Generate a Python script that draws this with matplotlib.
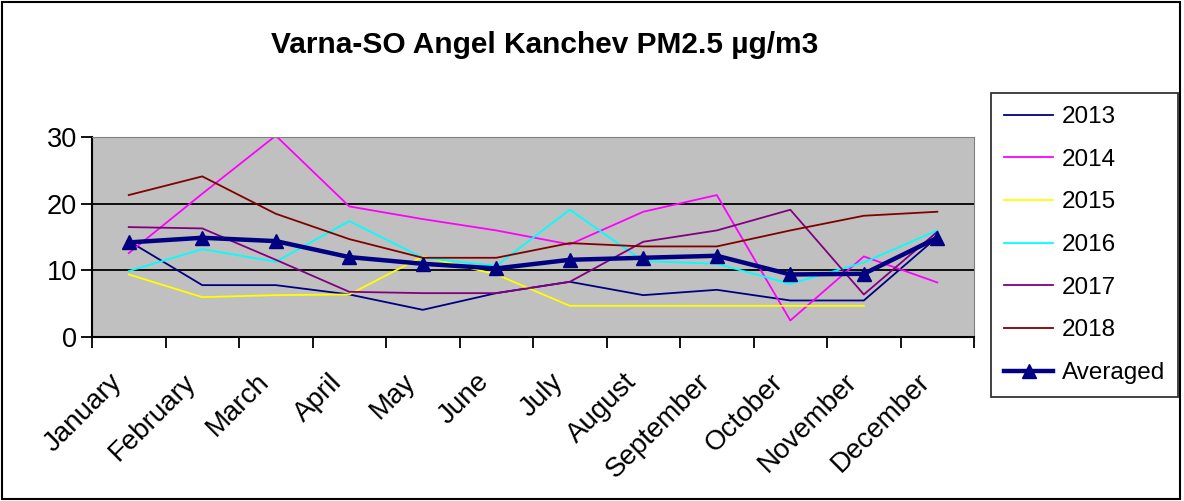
import matplotlib.pyplot as plt
from matplotlib.patches import Rectangle
from matplotlib.transforms import ScaledTranslation

plt.rcParams['font.family'] = ['Liberation Sans', 'DejaVu Sans']

# Data
months = ["January", "February", "March", "April", "May", "June", "July",
          "August", "September", "October", "November", "December"]
y2013 = [14.4, 7.8, 7.8, 6.4, 4.1, 6.6, 8.3, 6.3, 7.1, 5.5, 5.5, 15.0]
y2014 = [12.6, 21.5, 30.2, 19.6, 17.7, 16.0, 13.9, 18.8, 21.3, 2.5, 12.1, 8.2]
y2015 = [9.4, 6.0, 6.3, 6.4, 12.1, 9.4, 4.7, 4.7, 4.7, 4.7, 4.7, None]
y2016 = [9.9, 13.2, 11.3, 17.4, 11.9, 10.7, 19.1, 11.4, 11.0, 8.0, 11.2, 16.0]
y2017 = [16.5, 16.3, 11.6, 6.8, 6.6, 6.6, 8.3, 14.3, 16.0, 19.1, 6.4, 15.8]
y2018 = [21.3, 24.1, 18.5, 14.7, 11.9, 11.9, 14.1, 13.6, 13.6, 16.0, 18.2, 18.8]
averaged = [14.2, 14.9, 14.4, 12.0, 11.0, 10.3, 11.6, 11.9, 12.2, 9.4, 9.5, 14.9]

series = [("2013", y2013, "#000080"), ("2014", y2014, "#FF00FF"),
          ("2015", y2015, "#FFFF00"), ("2016", y2016, "#00FFFF"),
          ("2017", y2017, "#800080"), ("2018", y2018, "#800000")]

fig = plt.figure(figsize=(11.84, 5.01), dpi=100)
ax = fig.add_axes([0.0777, 0.327, 0.745, 0.3995])
ax.set_facecolor("#C0C0C0")

x = list(range(len(months)))
for label, vals, color in series:
    xs = [i for i, v in zip(x, vals) if v is not None]
    vs = [v for v in vals if v is not None]
    ax.plot(xs, vs, color=color, lw=1.3, label=label)
ax.plot(x, averaged, color="#000080", lw=3.2, marker="^", markersize=10,
        label="Averaged")

ax.set_xlim(-0.5, 11.5)
ax.set_ylim(0, 30)
ax.set_yticks([0, 10, 20, 30])
ax.yaxis.grid(True, color="black", lw=1.3)
ax.set_axisbelow(True)
ax.set_xticks([i - 0.5 for i in range(13)])
ax.set_xticklabels([])
ax.set_xticks(x, minor=True)
ax.set_xticklabels(months, minor=True, rotation=45, ha="right", va="top",
                   rotation_mode="anchor", fontsize=20)
ax.tick_params(axis="x", which="minor", length=0, pad=12)
ax.tick_params(axis="x", which="major", length=8, width=1.3)
ax.tick_params(axis="y", labelsize=19.5, length=8, width=1.3, pad=3)
shift = ScaledTranslation(-0.2, -0.15, fig.dpi_scale_trans)
for lab in ax.get_xticklabels(minor=True):
    lab.set_transform(lab.get_transform() + shift)
for s in ["top", "right"]:
    ax.spines[s].set_color("#808080")
for s in ["left", "bottom"]:
    ax.spines[s].set_linewidth(1.5)

fig.text(0.46, 0.91, "Varna-SO Angel Kanchev PM2.5 µg/m3", ha="center",
         va="center", fontsize=21.5, fontweight="bold")

leg = fig.legend(loc="upper left", bbox_to_anchor=(0.837, 0.815), fontsize=17.5,
                 frameon=True, fancybox=False, edgecolor="black",
                 handlelength=2.0, handletextpad=0.35, labelspacing=0.85,
                 borderpad=0.55, borderaxespad=0)
leg.get_frame().set_linewidth(1.3)

fig.patches.append(Rectangle((0.002, 0.003), 0.995, 0.993,
                             transform=fig.transFigure, fill=False,
                             edgecolor="black", lw=1.5))

fig.savefig("out.png", dpi=100)
